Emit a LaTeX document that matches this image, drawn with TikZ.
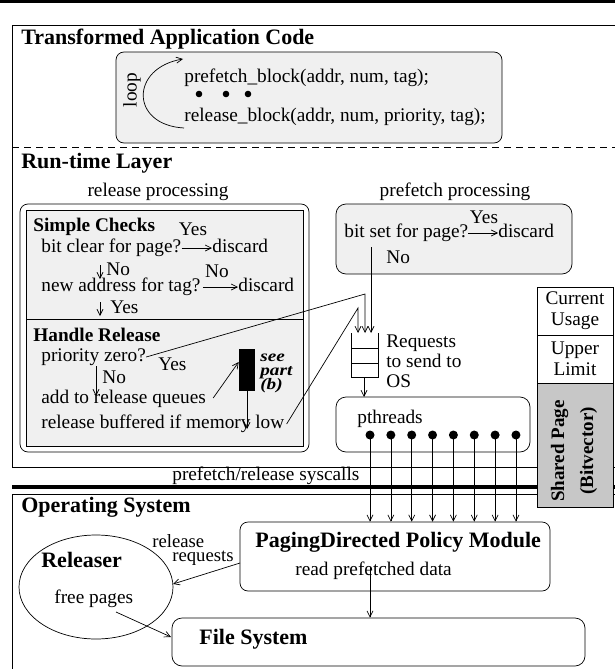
\documentclass[tikz,border=0pt]{standalone}
\usepackage{fontspec}
\setmainfont{Liberation Serif}
\newfontfamily\widebi[FakeStretch=1.2]{Liberation Serif}
\usetikzlibrary{arrows.meta,shapes.geometric}
\tikzset{
  txt/.style={inner sep=0pt, font=\fontsize{19.3}{21}\selectfont, text height=13pt, text depth=4pt},
  lt/.style={txt, anchor=west},
  hd/.style={inner sep=0pt, anchor=west, font=\bfseries\fontsize{22}{24}\selectfont, text height=15pt, text depth=5pt},
  sub/.style={inner sep=0pt, anchor=west, font=\bfseries\fontsize{19.3}{21}\selectfont, text height=13pt, text depth=4pt},
  bi/.style={inner sep=0pt, anchor=west, font=\widebi\bfseries\itshape\fontsize{16}{17}\selectfont, text height=8pt, text depth=2pt},
  arr/.style={-{Straight Barb[length=6pt,width=6pt]}},
  rbox/.style={draw, rounded corners=8pt, inner sep=0pt},
  lightfill/.style={fill=black!6},
  dot/.style={circle, fill, inner sep=0pt, minimum size=9pt},
  sdot/.style={circle, fill, inner sep=0pt, minimum size=6.6pt},
  cell/.style={draw, inner sep=0pt, minimum width=76pt, minimum height=48pt, align=center, font=\fontsize{19.3}{21}\selectfont},
}
\begin{document}
\begin{tikzpicture}[x=1pt,y=-1pt,line width=0.7pt]
\useasboundingbox (0,0) rectangle (615,669);
% layer frames
\fill (0,0) rectangle (615,3.3);
\draw (615,25) -- (12,25) -- (12,467) -- (615,467);
\draw[dash pattern=on 7pt off 5pt] (12,147) -- (615,147);
\draw[line width=3.3pt] (12,487) -- (615,487);
\draw (615,494) -- (12,494) -- (12,669);

% application code
\node[hd] (t1) at (21,40) {Transformed Application Code};
\node[rbox, lightfill, minimum width=386pt, minimum height=91pt] (code) at (309,97.5) {};
\node[txt, rotate=90] (loop) at (132,90) {loop};
\node[lt] (pf) at (184,78) {prefetch\_block(addr, num, tag);};
\node[sdot] (e1) at (199,94) {};
\node[sdot] (e2) at (226,94) {};
\node[sdot] (e3) at (248,94) {};
\node[lt] (rb) at (184,117) {release\_block(addr, num, priority, tag);};
\coordinate (la) at (184,128);
\coordinate (lb) at (183,59);
\draw[arr] (la) .. controls (130,125) and (130,68) .. (lb);

% run-time layer
\node[hd] (t2) at (21,163) {Run-time Layer};
\node[txt] (rp) at (158,192) {release processing};
\node[txt] (pp) at (455,192) {prefetch processing};

\node[rbox, fill=white, minimum width=289pt, minimum height=248pt] (rel) at (164.5,328) {};
\node[draw, lightfill, inner sep=0pt, minimum width=277pt, minimum height=236pt] (inner) at (164.5,328) {};
\coordinate (dvl) at (26,319);
\coordinate (dvr) at (303,319);
\draw (dvl) -- (dvr);

\node[sub] (sc) at (33,227) {Simple Checks};
\node[lt] (bc) at (41,248) {bit clear for page?};
\node[lt] (d1) at (212,248) {discard};
\draw[arr] (bc.east) -- (d1.west);
\node[txt] (y1) at (193,231) {Yes};
\coordinate (a1) at (100,265);
\coordinate (b1) at (100,279);
\draw[arr] (a1) -- (b1);
\node[lt, text depth=2pt] (n1) at (106,270) {No};
\node[lt] (na) at (41,287) {new address for tag?};
\node[lt] (d2) at (238,287) {discard};
\draw[arr] ([xshift=2pt]na.east) -- (d2.west);
\node[txt] (n2) at (217,273) {No};
\coordinate (a2) at (100,302);
\coordinate (b2) at (100,316);
\draw[arr] (a2) -- (b2);
\node[lt] (y2) at (110,309) {Yes};

\node[sub] (hr) at (33,337) {Handle Release};
\node[lt] (pz) at (41,357) {priority zero?};
\node[lt] (y3) at (158,366) {Yes};
\coordinate (a3) at (96,366);
\coordinate (b3) at (96,396);
\draw[arr] (a3) -- (b3);
\node[lt] (n3) at (102,379) {No};
\node[lt] (aq) at (41,399) {add to release queues};
\node[fill, inner sep=0pt, minimum width=16pt, minimum height=42pt] (bar) at (247,370) {};
\draw[arr] ([xshift=7pt,yshift=1pt]aq.east) -- ([yshift=8pt]bar.west);
\node[bi] (see1) at (260,358) {see};
\node[bi] (see2) at (260,372) {part};
\node[bi] (see3) at (260,386) {(b)};
\coordinate (bb) at (247,429);
\draw[arr] (bar.south) -- (bb);
\node[lt] (rbm) at (41,424) {release buffered if memory low};

% prefetch processing
\node[rbox, lightfill, rounded corners=10pt, minimum width=236pt, minimum height=70pt] (pbox) at (454,239) {};
\node[lt] (bs) at (344,233) {bit set for page?};
\node[lt] (d3) at (498,233) {discard};
\draw[arr] (bs.east) -- (d3.west);
\node[txt] (y4) at (484,219) {Yes};
\node[lt] (n4) at (386,259) {No};

% queue
\coordinate (qtl) at (351,333);
\coordinate (qbl) at (351,377);
\coordinate (qbr) at (378,377);
\coordinate (qtr) at (378,333);
\coordinate (qm1l) at (351,348);
\coordinate (qm1r) at (378,348);
\coordinate (qm2l) at (351,363);
\coordinate (qm2r) at (378,363);
\draw (qtl) -- (qbl) -- (qbr) -- (qtr);
\draw (qm1l) -- (qm1r);
\draw (qm2l) -- (qm2r);
\node[lt] (rq) at (386,343) {Requests};
\node[lt] (rq2) at (386,363) {to send to};
\node[lt] (rq3) at (386,383) {OS};

% connectors into queue
\coordinate (q1top) at (365,294);
\coordinate (q1) at (365,333);
\draw[arr] (pz.east) -- (q1top) -- (q1);
\coordinate (q2top) at (358,308);
\coordinate (q2) at (358,333);
\draw[arr] ([xshift=2pt]rbm.east) -- (q2top) -- (q2);
\coordinate (pfa) at (371,247);
\coordinate (q3) at (371,333);
\draw[arr] (pfa) -- (q3);

% pthreads
\node[rbox, rounded corners=10pt, fill=white, minimum width=194pt, minimum height=55pt] (pth) at (433,424.5) {};
\coordinate (qout) at (364,377);
\coordinate (qin) at (364,397);
\draw[arr] (qout) -- (qin);
\node[lt] (ptl) at (357,419) {pthreads};

% shared page column
\node[cell, fill=white] (cu) at (575,311) {Current\\Usage};
\node[cell, fill=white] (ul) at (575,359) {Upper\\Limit};
\node[draw, fill=black!22, inner sep=0pt, minimum width=76pt, minimum height=124pt] (sp) at (575,445) {};
\node[rotate=90, inner sep=0pt, align=center, font=\bfseries\fontsize{19}{29}\selectfont] (spt) at (574,451) {Shared Page\\(Bitvector)};

% operating system
\node[lt] (sys) at (172,476) {prefetch/release syscalls};
\node[hd] (t3) at (21,507) {Operating System};
\node[draw, ellipse, inner sep=0pt, minimum width=154pt, minimum height=104pt] (rls) at (96,587) {};
\node[hd] (rl) at (41,562) {Releaser};
\node[lt] (fp) at (54,599) {free pages};
\node[rbox, minimum width=310pt, minimum height=69pt] (pdpm) at (395,556.5) {};
\node[hd] (pdt) at (255,542) {PagingDirected Policy Module};
\node[lt] (rpd) at (295,571) {read prefetched data};
\node[lt, font=\fontsize{18.7}{20}\selectfont] (rr1) at (152,543) {release};
\node[lt, font=\fontsize{18.7}{20}\selectfont] (rr2) at (172,557) {requests};
\coordinate (rra) at (240,563);
\coordinate (rrb) at (173,584);
\draw[arr] (rra) -- (rrb);
\node[rbox, rounded corners=10pt, minimum width=413pt, minimum height=48pt] (fs) at (378.5,642) {};
\node[hd] (fst) at (199,639) {File System};
\coordinate (rda) at (370,567);
\draw[arr] (rda) -- (rda |- fs.north);
\coordinate (fpa) at (116,612);
\coordinate (fpb) at (171,637);
\draw[arr] (fpa) -- (fpb);

% thread dots and syscall arrows
\foreach \i in {0,...,7} {
  \node[dot] (th\i) at ({370+20.85*\i},435) {};
  \draw[arr] (th\i.center) -- (th\i.center |- pdpm.north);
}
\end{tikzpicture}
\end{document}
